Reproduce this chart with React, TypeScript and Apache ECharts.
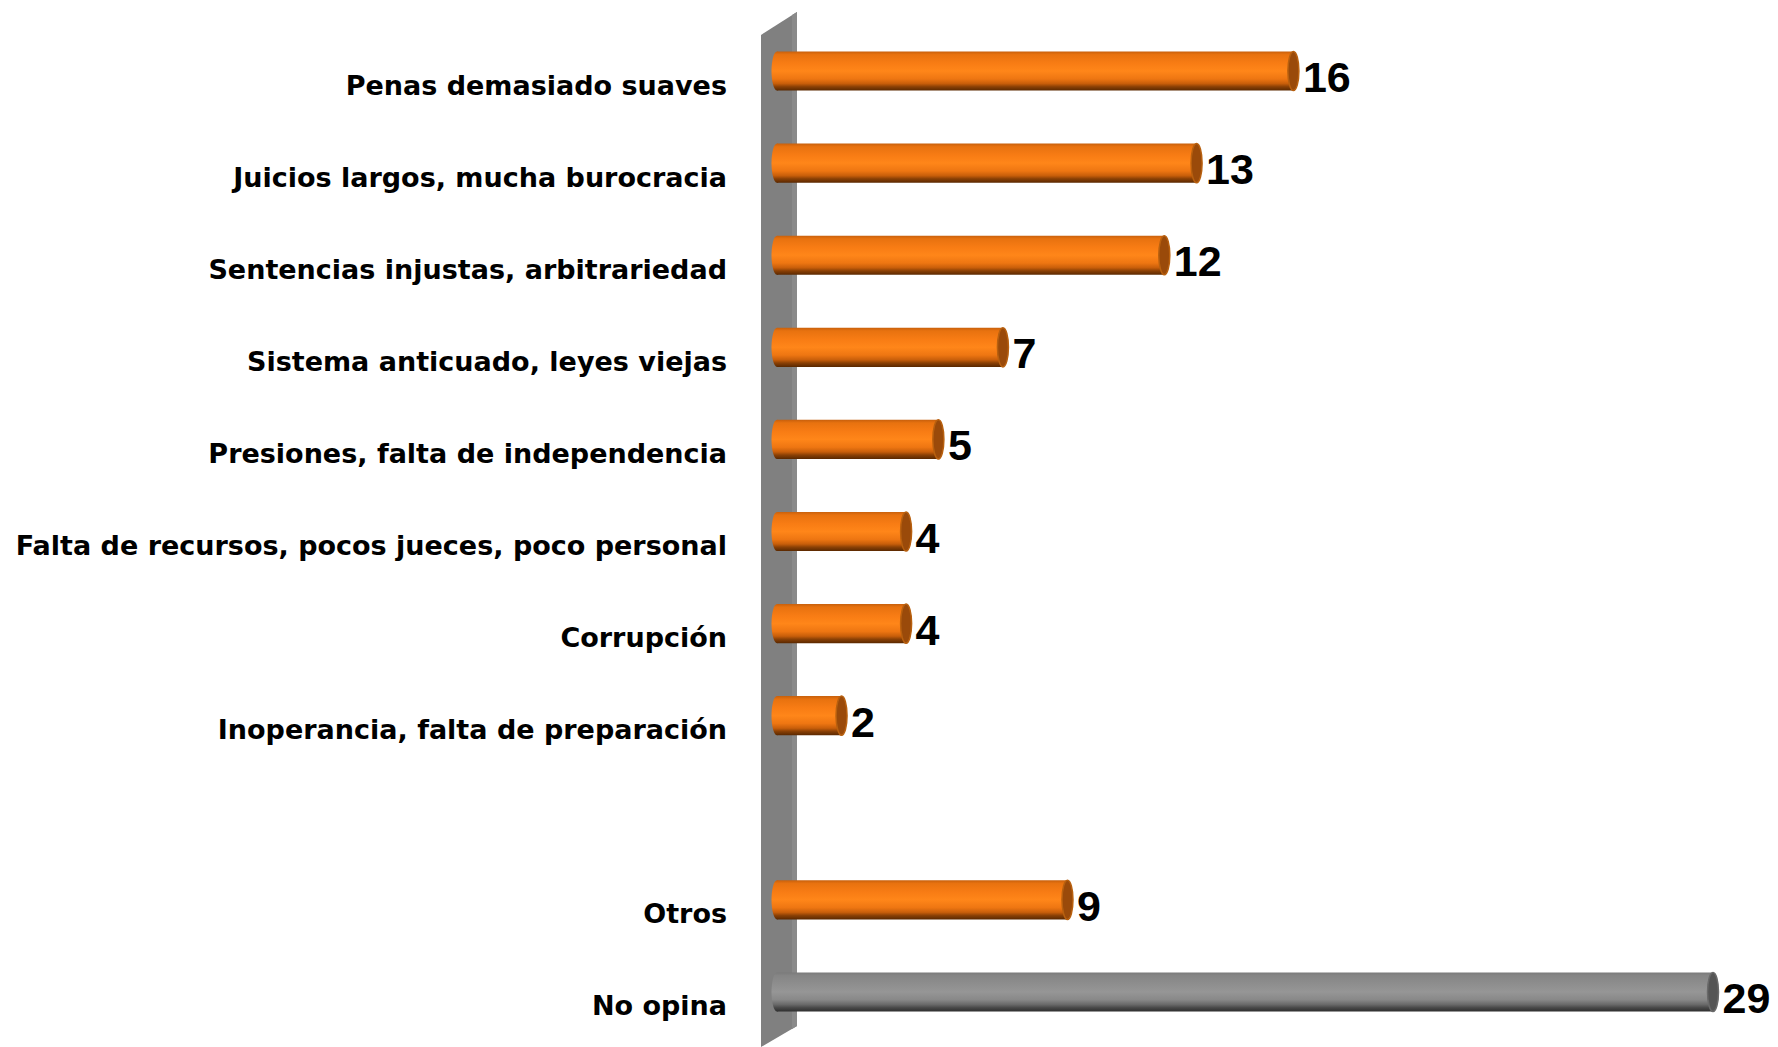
import React, { useEffect, useRef } from "react";
import * as echarts from "echarts";

const categories: string[] = [
  "Penas demasiado suaves",
  "Juicios largos, mucha burocracia",
  "Sentencias injustas, arbitrariedad",
  "Sistema anticuado, leyes viejas",
  "Presiones, falta de independencia",
  "Falta de recursos, pocos jueces, poco personal",
  "Corrupción",
  "Inoperancia, falta de preparación",
  "",
  "Otros",
  "No opina",
];

const values: (number | null)[] = [16, 13, 12, 7, 5, 4, 4, 2, null, 9, 29];

const GRAY_CATEGORY = "No opina";

const orangeBody = [
  { offset: 0, color: "#C8600C" },
  { offset: 0.08, color: "#E8720F" },
  { offset: 0.3, color: "#F87C14" },
  { offset: 0.5, color: "#FF8619" },
  { offset: 0.7, color: "#EE7612" },
  { offset: 0.82, color: "#C85E0A" },
  { offset: 0.9, color: "#8A4005" },
  { offset: 1, color: "#5A2800" },
];
const grayBody = [
  { offset: 0, color: "#7A7A7A" },
  { offset: 0.08, color: "#858585" },
  { offset: 0.3, color: "#8E8E8E" },
  { offset: 0.5, color: "#969696" },
  { offset: 0.7, color: "#888888" },
  { offset: 0.82, color: "#6A6A6A" },
  { offset: 0.9, color: "#4A4A4A" },
  { offset: 1, color: "#2E2E2E" },
];

export default function App() {
  const ref = useRef<HTMLDivElement>(null);

  useEffect(() => {
    if (!ref.current) return;
    const chart = echarts.init(ref.current, null, { renderer: "svg" });

    const seriesData = values
      .map((v, i) => (v == null ? null : [v, i]))
      .filter((d) => d !== null) as number[][];

    const option: any = {
      animation: false,
      backgroundColor: "#ffffff",
      grid: { left: 777, right: 65, top: 25, bottom: 9, containLabel: false },
      xAxis: { type: "value", min: 0, max: 29, show: false },
      yAxis: {
        type: "category",
        inverse: true,
        data: categories,
        axisLine: { show: false },
        axisTick: { show: false },
        splitLine: { show: false },
        axisLabel: {
          margin: 50,
          color: "#000000",
          fontFamily: "DejaVu Sans",
          fontWeight: "bold",
          fontSize: 27,
          verticalAlign: "top",
          lineHeight: 28,
        },
      },
      graphic: [
        {
          type: "polygon",
          z: 0,
          shape: {
            points: [
              [761, 35],
              [797, 12],
              [797, 1026],
              [761, 1047],
            ],
          },
          style: { fill: "#808080" },
        },
        {
          type: "polygon",
          z: 0,
          shape: {
            points: [
              [792, 15],
              [797, 12],
              [797, 1026],
              [792, 1029],
            ],
          },
          style: { fill: "#8A8A8A" },
        },
      ],
      series: [
        {
          type: "custom",
          z: 5,
          data: seriesData,
          encode: { x: 0, y: 1 },
          renderItem: (params: any, api: any) => {
            const v = api.value(0);
            const idx = api.value(1);
            const start = api.coord([0, idx]);
            const end = api.coord([v, idx]);
            const band = api.size([0, 1])[1];
            const h = band * 0.425;
            const rx = 5.5;
            const isGray = categories[idx] === GRAY_CATEGORY;
            const body = new echarts.graphic.LinearGradient(0, 0, 0, 1, isGray ? grayBody : orangeBody);
            const capColor = isGray ? "#555555" : "#9A4A0A";
            const capStroke = isGray ? "#6A6A6A" : "#B8600F";
            const y0 = start[1] - h / 2;
            return {
              type: "group",
              children: [
                {
                  type: "ellipse",
                  shape: { cx: start[0], cy: start[1], rx: rx, ry: h / 2 },
                  style: { fill: body },
                },
                {
                  type: "rect",
                  shape: { x: start[0], y: y0, width: end[0] - start[0], height: h },
                  style: { fill: body },
                },
                {
                  type: "ellipse",
                  shape: { cx: end[0], cy: end[1], rx: rx, ry: h / 2 },
                  style: { fill: capColor, stroke: capStroke, lineWidth: 1.5 },
                },
                {
                  type: "text",
                  x: end[0] + rx + 4,
                  y: end[1] + 6,
                  style: {
                    text: String(v),
                    fill: "#000000",
                    fontFamily: "Liberation Sans Narrow, Arial Narrow, Liberation Sans",
                    fontWeight: "bold",
                    fontSize: 43,
                    align: "left",
                    verticalAlign: "middle",
                  },
                },
              ],
            };
          },
        },
      ],
    };

    chart.setOption(option);
    return () => chart.dispose();
  }, []);

  return (
    <div
      ref={ref}
      style={{ position: "fixed", left: 0, top: 0, width: 1778, height: 1047 }}
    />
  );
}
